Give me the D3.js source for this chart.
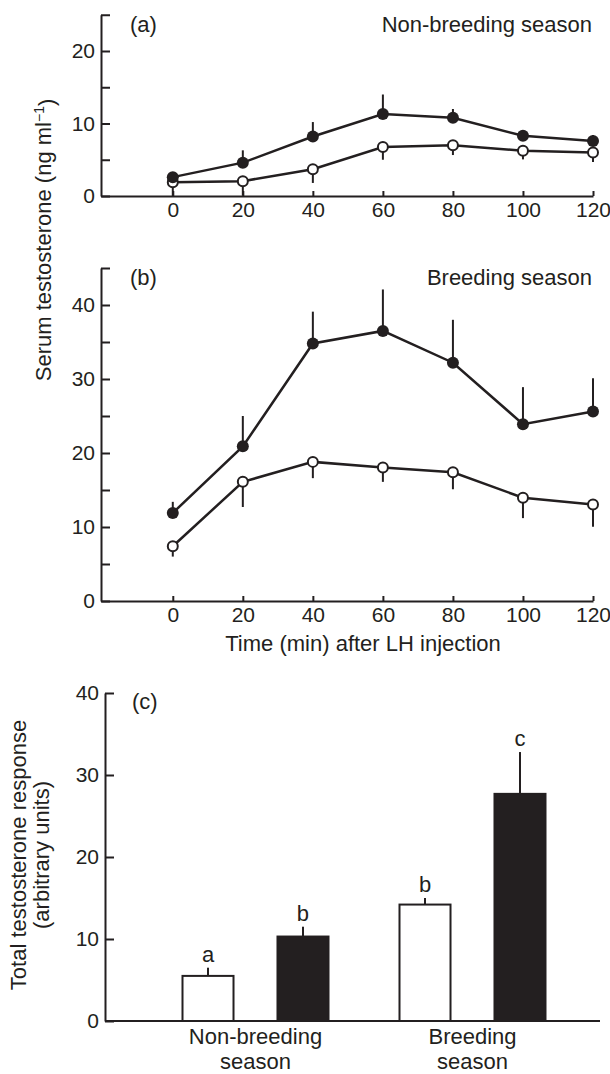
<!DOCTYPE html>
<html>
<head>
<meta charset="utf-8">
<script src="https://cdn.jsdelivr.net/npm/d3@7"></script>
<style>
  body { margin: 0; background: #fff; }
  svg text { font-family: "Liberation Sans", Arial, sans-serif; fill: #231f20; }
  .axis path, .axis line { stroke: #231f20; stroke-width: 2; }
  .axis text { font-size: 21px; }
</style>
</head>
<body>
<div id="chart"></div>
<script>
// time after LH injection (min)
var times = [0, 20, 40, 60, 80, 100, 120];

// (a) non-breeding season
var nbFilled = [2.6, 4.6, 8.2, 11.3, 10.8, 8.3, 7.6];
var nbFilledErr = [0, 1.7, 2.0, 2.7, 1.2, 0.8, 0.8];
var nbOpen = [1.9, 2.05, 3.7, 6.75, 7.0, 6.25, 6.0];
var nbOpenErr = [1.9, 2.0, 1.9, 1.75, 1.35, 1.2, 1.3];

// (b) breeding season
var bFilled = [11.9, 20.9, 34.8, 36.5, 32.2, 23.9, 25.6];
var bFilledErr = [1.5, 4.1, 4.3, 5.6, 5.8, 5.0, 4.5];
var bOpen = [7.4, 16.1, 18.8, 18.05, 17.4, 13.95, 13.05];
var bOpenErr = [1.4, 3.4, 2.2, 1.95, 2.3, 2.75, 3.0];

// (c) total response
var seasons = ["Non-breeding season", "Breeding season"];
var seasonLines = [["Non-breeding", "season"], ["Breeding", "season"]];
var totalOpen = [5.5, 14.2];
var totalOpenErr = [1.0, 0.8];
var totalFilled = [10.3, 27.7];
var totalFilledErr = [1.2, 5.1];
var openLetters = ["a", "b"];
var filledLetters = ["b", "c"];

var W = 610, H = 1074;
var svg = d3.select("#chart").append("svg")
  .attr("width", W).attr("height", H);

var x = d3.scaleLinear().domain([-20.5, 120]).range([101, 593]);

function yAxis(g, y, vals) {
  g.attr("class", "axis")
    .call(d3.axisLeft(y).tickValues(vals)
      .tickSizeInner(-9).tickSizeOuter(0).tickPadding(6)
      .tickFormat(function(d) { return d % 10 === 0 ? d : ""; }));
}

function linePanel(top, y, yTicks, filled, filledErr, open, openErr, tag, title) {
  var g = svg.append("g");
  var y0 = y(0);

  g.append("g").attr("transform", "translate(0," + y0 + ")")
    .attr("class", "axis")
    .call(d3.axisBottom(x).tickValues(times)
      .tickSizeInner(-5).tickSizeOuter(0).tickPadding(6));

  g.append("g").attr("transform", "translate(" + x.range()[0] + ",0)")
    .call(yAxis, y, yTicks);

  var line = d3.line()
    .x(function(d, i) { return x(times[i]); })
    .y(function(d) { return y(d); });

  // open series: errors downward
  g.selectAll(".eo").data(open).enter().append("line")
    .attr("x1", function(d, i) { return x(times[i]); })
    .attr("x2", function(d, i) { return x(times[i]); })
    .attr("y1", function(d) { return y(d); })
    .attr("y2", function(d, i) { return y(d - openErr[i]); })
    .attr("stroke", "#231f20").attr("stroke-width", 2);
  g.append("path").datum(open).attr("d", line)
    .attr("fill", "none").attr("stroke", "#231f20").attr("stroke-width", 2.5);

  // filled series: errors upward
  g.selectAll(".ef").data(filled).enter().append("line")
    .attr("x1", function(d, i) { return x(times[i]); })
    .attr("x2", function(d, i) { return x(times[i]); })
    .attr("y1", function(d) { return y(d); })
    .attr("y2", function(d, i) { return y(d + filledErr[i]); })
    .attr("stroke", "#231f20").attr("stroke-width", 2);
  g.append("path").datum(filled).attr("d", line)
    .attr("fill", "none").attr("stroke", "#231f20").attr("stroke-width", 2.5);

  g.selectAll(".po").data(open).enter().append("circle")
    .attr("cx", function(d, i) { return x(times[i]); })
    .attr("cy", function(d) { return y(d); })
    .attr("r", 5).attr("fill", "#fff")
    .attr("stroke", "#231f20").attr("stroke-width", 2);
  g.selectAll(".pf").data(filled).enter().append("circle")
    .attr("cx", function(d, i) { return x(times[i]); })
    .attr("cy", function(d) { return y(d); })
    .attr("r", 6).attr("fill", "#231f20");

  g.append("text").attr("x", 130).attr("y", top + 8)
    .style("font-size", "22px").text(tag);
  g.append("text").attr("x", 592).attr("y", top + 8)
    .attr("text-anchor", "end").style("font-size", "22px").text(title);
}

var ya = d3.scaleLinear().domain([0, 25]).range([196, 14.75]);
linePanel(24, ya, d3.range(0, 26, 5), nbFilled, nbFilledErr, nbOpen, nbOpenErr,
  "(a)", "Non-breeding season");

var yb = d3.scaleLinear().domain([0, 45]).range([601, 268]);
linePanel(277, yb, d3.range(0, 46, 5), bFilled, bFilledErr, bOpen, bOpenErr,
  "(b)", "Breeding season");

svg.append("text").attr("x", 363).attr("y", 651)
  .attr("text-anchor", "middle").style("font-size", "22px")
  .text("Time (min) after LH injection");

// shared y label for (a) and (b)
var yl = svg.append("text")
  .attr("transform", "translate(43,240) rotate(-90)")
  .attr("text-anchor", "middle").attr("dy", "0.35em")
  .style("font-size", "22px");
yl.append("tspan").text("Serum testosterone (ng ml");
yl.append("tspan").attr("dy", "-0.45em").style("font-size", "14px").text("\u22121");
yl.append("tspan").attr("dy", "0.45em").text(")");

// (c) bars
var yc = d3.scaleLinear().domain([0, 40]).range([1021, 693]);
var x0 = d3.scaleBand().domain(seasons).range([147, 581]);
var x1 = d3.scaleBand().domain(["open", "filled"]).range([35.5, 181.5]).paddingInner(0.463);

var gc = svg.append("g");
gc.append("line").attr("class", "axis")
  .attr("x1", 105).attr("x2", 600).attr("y1", yc(0)).attr("y2", yc(0))
  .attr("stroke", "#231f20").attr("stroke-width", 2);
gc.append("g").attr("transform", "translate(105,0)")
  .call(yAxis, yc, d3.range(0, 41, 10));

var barData = [];
seasons.forEach(function(s, i) {
  barData.push({ s: s, k: "open", v: totalOpen[i], e: totalOpenErr[i], l: openLetters[i] });
  barData.push({ s: s, k: "filled", v: totalFilled[i], e: totalFilledErr[i], l: filledLetters[i] });
});

var bars = gc.selectAll(".bar").data(barData).enter().append("g")
  .attr("transform", function(d) { return "translate(" + (x0(d.s) + x1(d.k)) + ",0)"; });
var bw = x1.bandwidth();
bars.append("line")
  .attr("x1", bw / 2).attr("x2", bw / 2)
  .attr("y1", function(d) { return yc(d.v); })
  .attr("y2", function(d) { return yc(d.v + d.e); })
  .attr("stroke", "#231f20").attr("stroke-width", 2);
bars.append("rect")
  .attr("x", 0).attr("width", bw)
  .attr("y", function(d) { return yc(d.v); })
  .attr("height", function(d) { return yc(0) - yc(d.v); })
  .attr("fill", function(d) { return d.k === "open" ? "#fff" : "#231f20"; })
  .attr("stroke", "#231f20").attr("stroke-width", 2);
bars.append("text")
  .attr("x", bw / 2).attr("y", function(d) { return yc(d.v + d.e) - 6; })
  .attr("text-anchor", "middle").style("font-size", "22px")
  .text(function(d) { return d.l; });

seasons.forEach(function(s, i) {
  seasonLines[i].forEach(function(t, j) {
    gc.append("text")
      .attr("x", x0(s) + x0.bandwidth() / 2).attr("y", 1044 + j * 25)
      .attr("text-anchor", "middle").style("font-size", "22px").text(t);
  });
});

gc.append("text").attr("x", 132).attr("y", 709)
  .style("font-size", "22px").text("(c)");

var ylc = svg.append("text")
  .attr("transform", "translate(18,855) rotate(-90)")
  .attr("text-anchor", "middle").style("font-size", "22px");
ylc.append("tspan").attr("x", 0).attr("dy", "0.35em").text("Total testosterone response");
ylc.append("tspan").attr("x", 0).attr("dy", "1.05em").text("(arbitrary units)");
</script>
</body>
</html>
